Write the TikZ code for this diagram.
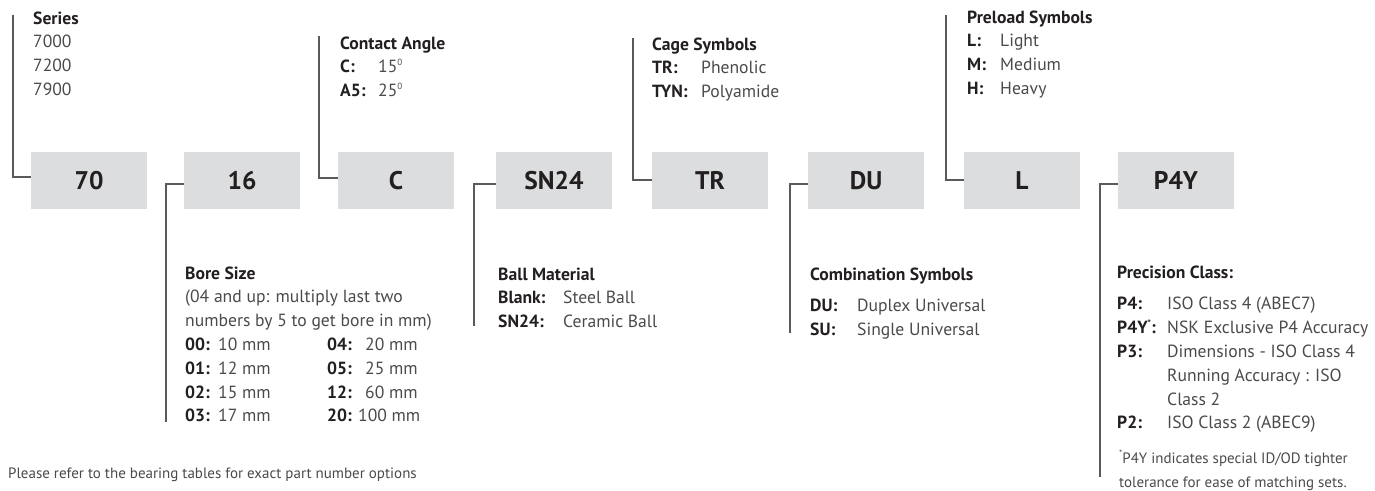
\documentclass[tikz,border=0pt]{standalone}
\usepackage{fontspec}
\setmainfont{PT Sans}
\usepackage{xcolor}
\usetikzlibrary{positioning}
\definecolor{boxgray}{HTML}{DCDDDE}
\definecolor{leadgray}{HTML}{5A5A5A}
\definecolor{bodygray}{HTML}{4A4A4A}
\definecolor{headink}{HTML}{231F20}
\newcommand{\lbl}[1]{\textbf{\color{headink}#1}}
\newcommand{\sups}[1]{\raisebox{0.85ex}{\fontsize{9}{9}\selectfont #1}}
\tikzset{
  code/.style={
    fill=boxgray,
    minimum width=116pt,
    minimum height=57pt,
    inner sep=0pt,
    text=headink,
    font=\fontsize{25.5}{30}\selectfont\bfseries
  },
  lead/.style={
    draw=leadgray,
    line width=2pt
  },
  legend/.style={
    anchor=base west,
    inner sep=0pt,
    text=bodygray,
    font=\fontsize{17.6}{23.8}\selectfont
  },
  note/.style={
    anchor=base west,
    inner sep=0pt,
    text=bodygray,
    font=\fontsize{15}{24}\selectfont
  }
}

\begin{document}
\begin{tikzpicture}[x=1pt,y=-1pt]
        \useasboundingbox (0,0) rectangle (1375,490);

        % code boxes
        \node[code] (b70) at (89,180.5) {70};
        \node[code] (b16) at (242,180.5) {16};
        \node[code] (bC) at (396,180.5) {C};
        \node[code] (bSN) at (554,180.5) {SN24};
        \node[code] (bTR) at (710,180.5) {TR};
        \node[code] (bDU) at (866,180.5) {DU};
        \node[code] (bL) at (1022,180.5) {L};
        \node[code] (bP) at (1176,180.5) {P4Y};

        % leaders
        \coordinate (serTop) at (13,15);
        \coordinate (boreEnd) at (166,422);
        \coordinate (angTop) at (319,36);
        \coordinate (ballEnd) at (474,326);
        \coordinate (cageTop) at (633,38);
        \coordinate (combEnd) at (790,333);
        \coordinate (preTop) at (946,15);
        \coordinate (precEnd) at (1100,477);
        \draw[lead] ([yshift=4pt]b70.west) -| (serTop);
        \draw[lead] ([yshift=-3pt]b16.west) -| (boreEnd);
        \draw[lead] ([yshift=2.5pt]bC.west) -| (angTop);
        \draw[lead] ([yshift=-3pt]bSN.west) -| (ballEnd);
        \draw[lead] ([yshift=1pt]bTR.west) -| (cageTop);
        \draw[lead] ([yshift=-3.5pt]bDU.west) -| (combEnd);
        \draw[lead] ([yshift=1pt]bL.west) -| (preTop);
        \draw[lead] ([yshift=-3.5pt]bP.west) -| (precEnd);

        % legends above
        \node[legend] (series) at (33,24) {\begin{tabular}[t]{@{}l@{}}
            \lbl{Series}\\ 7000\\ 7200\\ 7900
        \end{tabular}};
        \node[legend] (angle) at (340,49) {\begin{tabular}[t]{@{}p{38pt}@{}l@{}}
            \multicolumn{2}{@{}l@{}}{\lbl{Contact Angle}}\\
            \lbl{C:} & 15\sups{0}\\
            \lbl{A5:} & 25\sups{0}
        \end{tabular}};
        \node[legend] (cage) at (652,50) {\begin{tabular}[t]{@{}p{49pt}@{}l@{}}
            \multicolumn{2}{@{}l@{}}{\lbl{Cage Symbols}}\\
            \lbl{TR:} & Phenolic\\
            \lbl{TYN:} & Polyamide
        \end{tabular}};
        \node[legend] (preload) at (967,23) {\begin{tabular}[t]{@{}p{33pt}@{}l@{}}
            \multicolumn{2}{@{}l@{}}{\lbl{Preload Symbols}}\\
            \lbl{L:} & Light\\
            \lbl{M:} & Medium\\
            \lbl{H:} & Heavy
        \end{tabular}};

        % legends below
        \node[legend] (bore) at (185,279) {\begin{tabular}[t]{@{}p{33pt}@{}p{109pt}@{}p{38pt}@{}l@{}}
            \multicolumn{4}{@{}l@{}}{\lbl{Bore Size}}\\
            \multicolumn{4}{@{}l@{}}{(04 and up: multiply last two}\\
            \multicolumn{4}{@{}l@{}}{numbers by 5 to get bore in mm)}\\
            \lbl{00:} & 10 mm & \lbl{04:} & 20 mm\\
            \lbl{01:} & 12 mm & \lbl{05:} & 25 mm\\
            \lbl{02:} & 15 mm & \lbl{12:} & 60 mm\\
            \lbl{03:} & 17 mm & \multicolumn{2}{@{}l@{}}{\lbl{20:} 100 mm}
        \end{tabular}};
        \node[legend] (ball) at (498,280) {\begin{tabular}[t]{@{}p{65pt}@{}l@{}}
            \multicolumn{2}{@{}l@{}}{\lbl{Ball Material}}\\
            \lbl{Blank:} & Steel Ball\\
            \lbl{SN24:} & Ceramic Ball
        \end{tabular}};
        \node[legend] (comb) at (810,280) {\begin{tabular}[t]{@{}p{47pt}@{}l@{}}
            \multicolumn{2}{@{}l@{}}{\lbl{Combination Symbols}}\\[8pt]
            \lbl{DU:} & Duplex Universal\\
            \lbl{SU:} & Single Universal
        \end{tabular}};
        \node[legend] (prec) at (1117,278) {\begin{tabular}[t]{@{}p{50pt}@{}l@{}}
            \multicolumn{2}{@{}l@{}}{\lbl{Precision Class:}}\\[8pt]
            \lbl{P4:} & ISO Class 4 (ABEC7)\\
            \lbl{P4Y\sups{*}:} & NSK Exclusive P4 Accuracy\\
            \lbl{P3:} & Dimensions - ISO Class 4\\
             & Running Accuracy : ISO\\
             & Class 2\\
            \lbl{P2:} & ISO Class 2 (ABEC9)
        \end{tabular}};

        % notes
        \node[note] (fnote) at (1119,463) {\begin{tabular}[t]{@{}l@{}}
            \sups{*}P4Y indicates special ID/OD tighter\\
            tolerance for ease of matching sets.
        \end{tabular}};
        \node[note] (foot) at (8,478) {Please refer to the bearing tables for exact part number options};
\end{tikzpicture}
\end{document}
